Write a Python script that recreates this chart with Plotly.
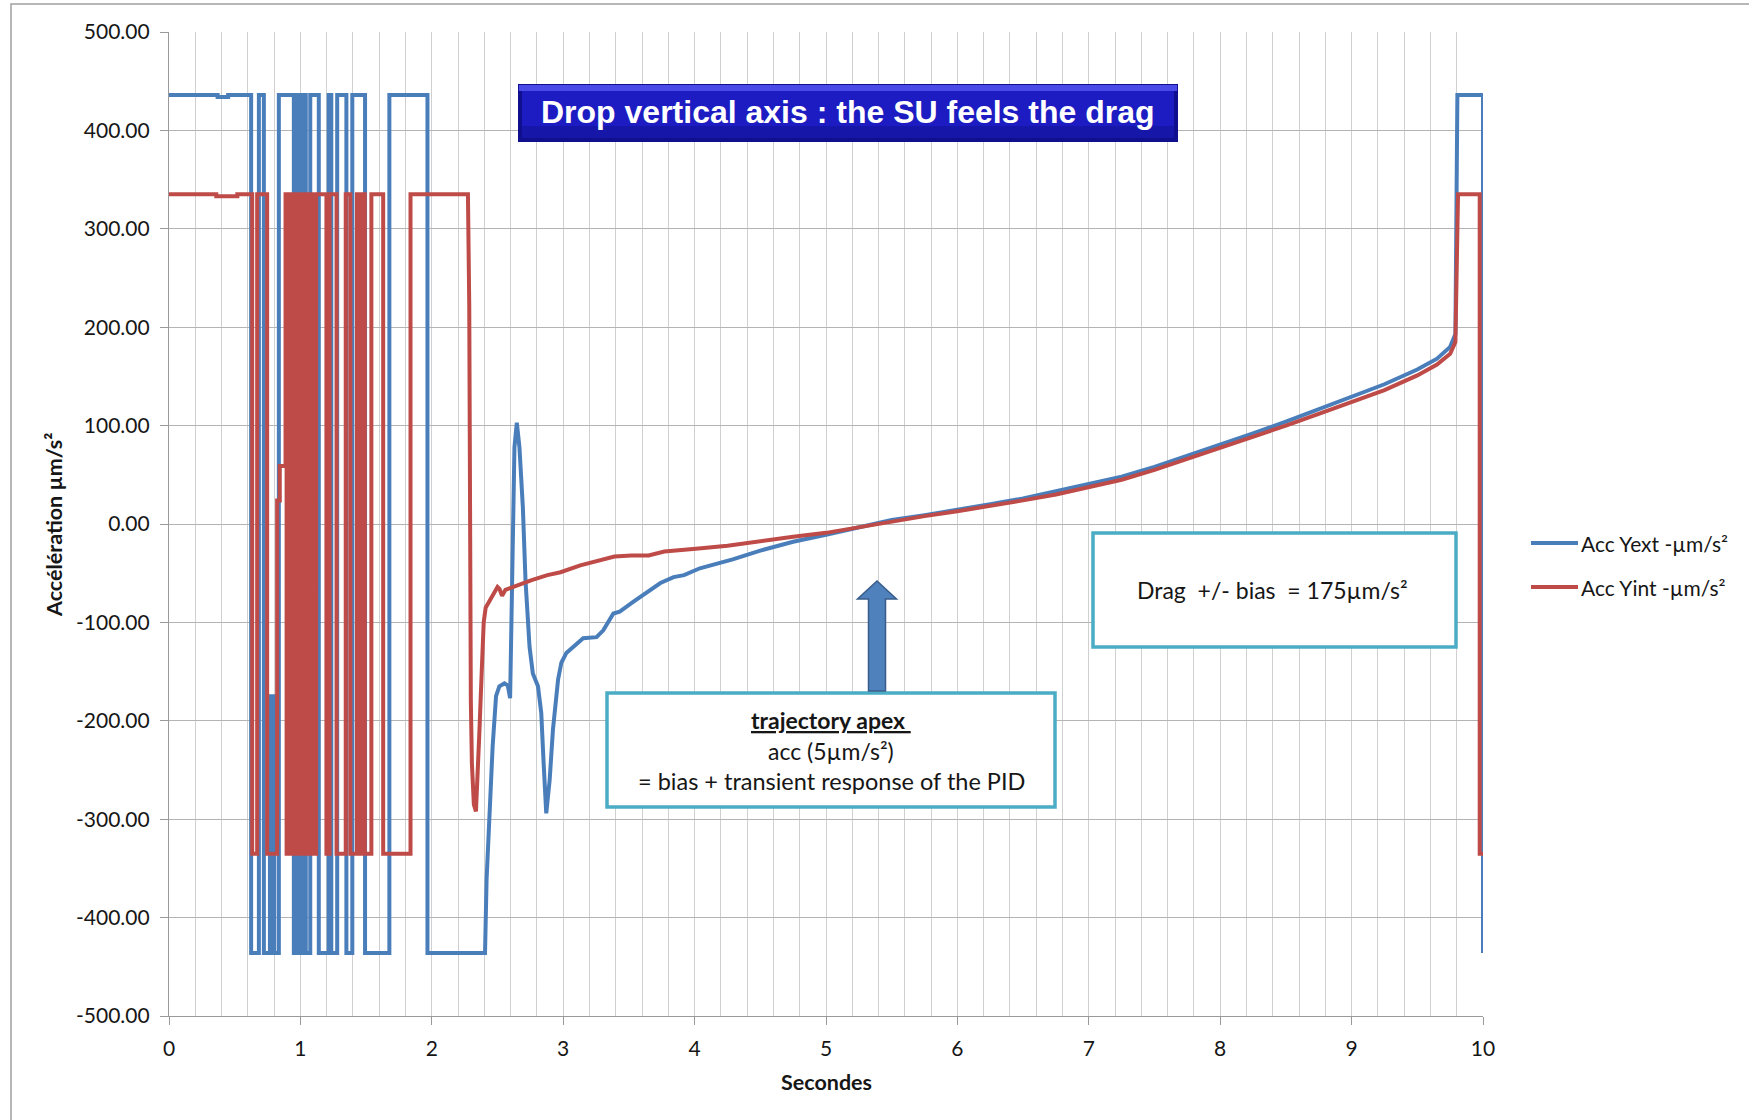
import plotly.graph_objects as go

# ---------------- data ----------------
blue_t = [0.00, 0.37, 0.37, 0.45, 0.45,
          0.625, 0.625, 0.684, 0.684, 0.722, 0.722,
          0.768, 0.768, 0.773, 0.773, 0.779, 0.779, 0.786, 0.786, 0.794, 0.794, 0.801, 0.801,
          0.836, 0.836, 0.950, 0.950, 0.958, 0.958, 0.964, 0.964, 0.970, 0.970, 0.976, 0.976,
          0.982, 0.982, 0.990, 0.990, 0.996, 0.996, 1.000, 1.000, 1.006, 1.006, 1.013, 1.013,
          1.020, 1.020, 1.027, 1.027, 1.034, 1.034, 1.041, 1.041,
          1.075, 1.075, 1.140, 1.140, 1.215, 1.215, 1.235, 1.235, 1.280, 1.280, 1.350, 1.350,
          1.395, 1.395, 1.492, 1.492, 1.677, 1.677, 1.967, 1.967,
          2.405, 2.417, 2.438, 2.463, 2.489, 2.514, 2.553, 2.578, 2.596, 2.616, 2.629, 2.647,
          2.667, 2.693, 2.713, 2.744, 2.769, 2.808, 2.833, 2.851, 2.871, 2.897, 2.922, 2.961,
          2.986, 3.024, 3.076, 3.152, 3.254, 3.305, 3.382, 3.43, 3.535, 3.61, 3.74, 3.84, 3.92,
          4.04, 4.29, 4.5, 4.75, 5.0, 5.25, 5.5, 5.75, 6.0, 6.25, 6.5, 6.75, 7.0, 7.25, 7.5,
          7.75, 8.0, 8.25, 8.5, 8.75, 9.0, 9.25, 9.5, 9.65, 9.75, 9.79, 9.805, 10.0, 10.0]
blue_v = [436, 436, 434, 434, 436,
          436, -436, -436, 436, 436, -436,
          -436, -175, -175, -436, -436, -175, -175, -436, -436, -175, -175, -436,
          -436, 436, 436, -436, -436, 436, 436, -320, -320, 436, 436, -436,
          -436, 436, 436, -320, -320, -436, -436, -320, -320, 436, 436, -436,
          -436, 436, 436, -320, -320, 436, 436, -436,
          -436, 436, 436, -436, -436, 436, 436, -436, -436, 436, 436, -436,
          -436, 436, 436, -436, -436, 436, 436, -436,
          -436, -361, -294, -226, -175, -165, -162, -164, -177, -23, 78, 103,
          78, 17, -57, -125, -152, -165, -192, -243, -294, -260, -209, -158,
          -141, -131, -125, -116, -115, -108, -91, -89, -79, -72, -60, -54, -52,
          -45, -36, -27, -18, -11, -3, 4, 9, 14, 20, 26, 33, 40, 48, 58,
          69, 81, 92, 104, 117, 130, 142, 157, 168, 180, 193, 436, 436, -436]

red_t = [0.00, 0.36, 0.36, 0.52, 0.52,
         0.633, 0.633, 0.671, 0.671, 0.747, 0.747,
         0.823, 0.823, 0.843, 0.843, 0.887, 0.887,
         0.895, 0.895, 0.903, 0.903, 0.911, 0.911, 0.919, 0.919, 0.927, 0.927, 0.935, 0.935,
         0.944, 0.944, 0.952, 0.952, 0.960, 0.960, 0.968, 0.968, 0.977, 0.977, 0.985, 0.985,
         0.993, 0.993, 1.000, 1.000, 1.012, 1.012, 1.020, 1.020, 1.028, 1.028, 1.036, 1.036,
         1.045, 1.045, 1.053, 1.053, 1.062, 1.062, 1.070, 1.070, 1.079, 1.079, 1.088, 1.088,
         1.096, 1.096, 1.104, 1.104, 1.112, 1.112, 1.120, 1.120, 1.130, 1.130,
         1.198, 1.198, 1.222, 1.222, 1.275, 1.275, 1.345, 1.345, 1.380, 1.380, 1.430, 1.430,
         1.445, 1.445, 1.452, 1.452, 1.462, 1.462, 1.470, 1.470, 1.490, 1.490,
         1.540, 1.540, 1.630, 1.630, 1.838, 1.838,
         2.275, 2.285, 2.292, 2.297, 2.305, 2.320, 2.336, 2.350, 2.361, 2.380, 2.395, 2.41,
         2.438, 2.47, 2.50, 2.515, 2.535, 2.56, 2.62, 2.67, 2.76, 2.88, 2.98, 3.13, 3.26,
         3.39, 3.52, 3.65, 3.77, 3.90, 4.03, 4.25, 4.5, 4.75, 5.0, 5.25, 5.5, 5.75, 6.0,
         6.25, 6.5, 6.75, 7.0, 7.25, 7.5, 7.75, 8.0, 8.25, 8.5, 8.75, 9.0, 9.25, 9.5, 9.65,
         9.75, 9.79, 9.81, 9.975, 9.975, 10.0]
red_v = [335, 335, 333, 333, 335,
         335, -335, -335, 335, 335, -335,
         -335, 24, 24, 59, 59, 335,
         335, -335, -335, 335, 335, -335, -335, 335, 335, -335, -335, 335,
         335, -335, -335, 335, 335, -335, -335, 335, 335, -335, -335, 335,
         335, -335, -335, 335, 335, -335, -335, 335, 335, -335, -335, 335,
         335, -335, -335, 335, 335, -335, -335, 335, 335, -335, -335, 335,
         335, -335, -335, 335, 335, -335, -335, 335, 335, 335,
         335, -335, -335, 335, 335, -335, -335, 335, 335, -335, -335, 335,
         335, -335, -335, 335, 335, -335, -335, 335, 335, -335,
         -335, 335, 335, -335, -335, 335,
         335, 222, -74, -179, -243, -285, -292, -255, -215, -150, -100, -85,
         -78, -70, -64, -66, -73, -67, -64, -61, -57, -52, -49, -42, -37,
         -33, -32, -32, -28, -27, -25, -22, -17, -13, -9, -3, 3, 8, 13,
         18, 24, 30, 37, 45, 55, 66, 77, 88, 100, 112, 124, 136, 151, 162,
         173, 185, 335, 335, -335, -335]

series_names = ["Acc Yext -µm/s²", "Acc Yint -µm/s²"]
y_tick_vals = [500, 400, 300, 200, 100, 0, -100, -200, -300, -400, -500]
y_tick_text = ["500.00", "400.00", "300.00", "200.00", "100.00", "0.00",
               "-100.00", "-200.00", "-300.00", "-400.00", "-500.00"]
x_tick_vals = [0, 1, 2, 3, 4, 5, 6, 7, 8, 9, 10]
x_tick_text = ["0", "1", "2", "3", "4", "5", "6", "7", "8", "9", "10"]

# ---------------- geometry ----------------
W, H = 1749, 1120
L, R, T, B = 169, 1483, 32, 1016
XMIN, XMAX, YMIN, YMAX = 0, 10, -500, 500


def px2x(px):
    return XMIN + (px - L) / (R - L) * (XMAX - XMIN)


def px2y(py):
    return YMAX - (py - T) / (B - T) * (YMAX - YMIN)


def pxp(px):
    return (px - L) / (R - L)


def pyp(py):
    return (B - py) / (B - T)


BLUE = "#4a7ebb"
RED = "#be4b48"
FONT = "Lato"
TXT = "#161616"

fig = go.Figure()
fig.add_trace(go.Scatter(x=blue_t, y=blue_v, mode="lines", name=series_names[0],
                         line=dict(color=BLUE, width=4), showlegend=False))
fig.add_trace(go.Scatter(x=red_t, y=red_v, mode="lines", name=series_names[1],
                         line=dict(color=RED, width=4), showlegend=False))

shapes = []
# outer chart frame
shapes.append(dict(type="rect", xref="paper", yref="paper",
                   x0=pxp(11), x1=pxp(1800), y0=pyp(1180), y1=pyp(4),
                   line=dict(color="#a0a0a0", width=1.5), fillcolor="rgba(0,0,0,0)", layer="below"))

# title box with bevel look
shapes.append(dict(type="rect", xref="x", yref="y", x0=px2x(518), x1=px2x(1178),
                   y0=px2y(142), y1=px2y(84), line=dict(width=0), fillcolor="#10108e", layer="above"))
shapes.append(dict(type="rect", xref="x", yref="y", x0=px2x(522), x1=px2x(1174),
                   y0=px2y(138), y1=px2y(88), line=dict(width=0), fillcolor="#1c1cc2", layer="above"))
shapes.append(dict(type="rect", xref="x", yref="y", x0=px2x(519), x1=px2x(1177),
                   y0=px2y(91), y1=px2y(85), line=dict(width=0), fillcolor="#4a4ae6", layer="above"))
shapes.append(dict(type="rect", xref="x", yref="y", x0=px2x(522), x1=px2x(1174),
                   y0=px2y(138), y1=px2y(126), line=dict(width=0), fillcolor="#1616a8", layer="above"))

# apex box
shapes.append(dict(type="rect", xref="x", yref="y", x0=px2x(607), x1=px2x(1055),
                   y0=px2y(807), y1=px2y(693), line=dict(color="#4bacc6", width=3.5),
                   fillcolor="white", layer="above"))
# drag box
shapes.append(dict(type="rect", xref="x", yref="y", x0=px2x(1093), x1=px2x(1456),
                   y0=px2y(647), y1=px2y(533), line=dict(color="#4bacc6", width=3.5),
                   fillcolor="white", layer="above"))

# block arrow
aL, aR = px2x(868.5), px2x(885.5)
hL, hR, tipx = px2x(857.5), px2x(896.5), px2x(877)
tipy, hb, bot = px2y(581), px2y(599), px2y(691)
path = (f"M{aL},{bot} L{aL},{hb} L{hL},{hb} L{tipx},{tipy} L{hR},{hb} "
        f"L{aR},{hb} L{aR},{bot} Z")
shapes.append(dict(type="path", xref="x", yref="y", path=path, fillcolor="#4f81bd",
                   line=dict(color="#385d8a", width=1.5), layer="above"))

# legend samples
shapes.append(dict(type="line", xref="paper", yref="paper", x0=pxp(1531), x1=pxp(1578),
                   y0=pyp(543), y1=pyp(543), line=dict(color=BLUE, width=4)))
shapes.append(dict(type="line", xref="paper", yref="paper", x0=pxp(1531), x1=pxp(1578),
                   y0=pyp(587), y1=pyp(587), line=dict(color=RED, width=4)))

ann = []
ann.append(dict(xref="x", yref="y", x=px2x(848), y=px2y(112), showarrow=False,
                text="<b>Drop vertical axis : the SU feels the drag</b>",
                font=dict(family="Liberation Sans", size=32, color="white"),
                xanchor="center", yanchor="middle"))
ann.append(dict(xref="x", yref="y", x=px2x(831), y=px2y(720), showarrow=False,
                text="<b><u>trajectory apex </u></b>", font=dict(family=FONT, size=23, color=TXT),
                xanchor="center", yanchor="middle"))
ann.append(dict(xref="x", yref="y", x=px2x(831), y=px2y(751), showarrow=False,
                text="acc (5µm/s²)", font=dict(family=FONT, size=23, color=TXT),
                xanchor="center", yanchor="middle"))
ann.append(dict(xref="x", yref="y", x=px2x(831), y=px2y(781), showarrow=False,
                text="= bias + transient response of the PID", font=dict(family=FONT, size=23.5, color=TXT),
                xanchor="center", yanchor="middle"))
ann.append(dict(xref="x", yref="y", x=px2x(1272), y=px2y(590), showarrow=False,
                text="Drag  +/- bias  = 175µm/s²", font=dict(family=FONT, size=23, color=TXT),
                xanchor="center", yanchor="middle"))
# legend texts
ann.append(dict(xref="paper", yref="paper", x=pxp(1579), y=pyp(543), showarrow=False,
                text=series_names[0], font=dict(family=FONT, size=21, color=TXT),
                xanchor="left", yanchor="middle"))
ann.append(dict(xref="paper", yref="paper", x=pxp(1579), y=pyp(587), showarrow=False,
                text=series_names[1], font=dict(family=FONT, size=21, color=TXT),
                xanchor="left", yanchor="middle"))
# axis titles
ann.append(dict(xref="paper", yref="paper", x=pxp(54), y=pyp(525), showarrow=False,
                text="<b>Accélération µm/s²</b>", textangle=-90,
                font=dict(family=FONT, size=21.5, color=TXT),
                xanchor="center", yanchor="middle"))
ann.append(dict(xref="paper", yref="paper", x=pxp(826), y=pyp(1082), showarrow=False,
                text="<b>Secondes</b>", font=dict(family=FONT, size=21.5, color=TXT),
                xanchor="center", yanchor="middle"))

fig.update_layout(
    width=W, height=H,
    margin=dict(l=L, r=W - R, t=T, b=H - B, pad=0),
    paper_bgcolor="white", plot_bgcolor="white",
    showlegend=False,
    shapes=shapes, annotations=ann,
    font=dict(family=FONT, size=21, color=TXT),
)
fig.update_xaxes(range=[XMIN, XMAX], tickvals=x_tick_vals, ticktext=x_tick_text,
                 showgrid=True, gridcolor="#d0d0d0", gridwidth=1,
                 minor=dict(dtick=0.2, showgrid=True, gridcolor="#d0d0d0", gridwidth=1),
                 showline=True, linecolor="#9a9a9a", linewidth=1.3,
                 ticks="outside", ticklen=8, tickcolor="#9a9a9a",
                 ticklabelstandoff=6,
                 tickfont=dict(family=FONT, size=21, color=TXT), zeroline=False)
fig.update_yaxes(range=[YMIN, YMAX], tickvals=y_tick_vals, ticktext=y_tick_text,
                 showgrid=True, gridcolor="#b4b4b4", gridwidth=1,
                 showline=True, linecolor="#9a9a9a", linewidth=1.3,
                 ticks="outside", ticklen=8, tickcolor="#9a9a9a",
                 ticklabelstandoff=6,
                 tickfont=dict(family=FONT, size=21, color=TXT), zeroline=False)

fig.write_html("out.html")
